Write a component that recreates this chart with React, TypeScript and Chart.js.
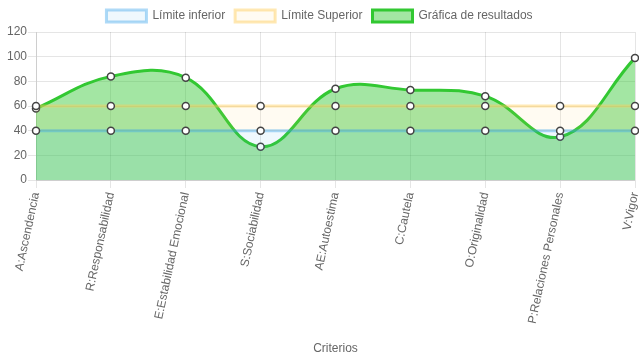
import React, { useEffect, useRef } from "react";
import { Chart, registerables } from "chart.js";

Chart.register(...registerables);

const categories = [
  "A:Ascendencia",
  "R:Responsabilidad",
  "E:Estabilidad Emocional",
  "S:Sociabilidad",
  "AE:Autoestima",
  "C:Cautela",
  "O:Originalidad",
  "P:Relaciones Personales",
  "V:Vigor",
];
const limiteInferior = [40, 40, 40, 40, 40, 40, 40, 40, 40];
const limiteSuperior = [60, 60, 60, 60, 60, 60, 60, 60, 60];
const resultados = [58, 84, 83, 27, 74, 73, 68, 35, 99];

export default function App() {
  const ref = useRef<HTMLCanvasElement>(null);
  useEffect(() => {
    if (!ref.current) return;
    const pointStyle = {
      pointRadius: 3.5,
      pointBackgroundColor: "#ffffff",
      pointBorderColor: "#444444",
      pointBorderWidth: 1.5,
    };
    const font = { family: "Arial, 'Liberation Sans', sans-serif", size: 12 };
    const chart = new Chart(ref.current, {
      type: "line",
      data: {
        labels: categories,
        datasets: [
          {
            label: "Límite inferior",
            data: limiteInferior,
            borderColor: "rgba(54,162,235,0.4)",
            backgroundColor: "rgba(54,162,235,0.08)",
            borderWidth: 3,
            fill: "origin",
            ...pointStyle,
          },
          {
            label: "Límite Superior",
            data: limiteSuperior,
            borderColor: "rgba(255,205,86,0.45)",
            backgroundColor: "rgba(255,205,86,0.08)",
            borderWidth: 3,
            fill: "-1",
            ...pointStyle,
          },
          {
            label: "Gráfica de resultados",
            data: resultados,
            borderColor: "rgb(50,200,50)",
            backgroundColor: "rgba(50,200,50,0.45)",
            borderWidth: 3,
            fill: "origin",
            tension: 0.4,
            ...pointStyle,
          },
        ],
      },
      options: {
        animation: false,
        responsive: true,
        maintainAspectRatio: false,
        layout: { padding: 0, autoPadding: false },
        plugins: {
          legend: { labels: { color: "#666", font } },
          tooltip: { enabled: false },
        },
        scales: {
          x: {
            ticks: { color: "#666", font, minRotation: 78, maxRotation: 78 },
            grid: { color: "rgba(0,0,0,0.1)" },
            title: {
              display: true,
              text: "Criterios",
              color: "#666",
              font,
              padding: { top: 14, bottom: 4 },
            },
            afterFit: (scale: any) => {
              scale.paddingRight = 4;
            },
          },
          y: {
            min: 0,
            max: 120,
            ticks: { stepSize: 20, color: "#666", font, padding: 1 },
            grid: { color: "rgba(0,0,0,0.1)" },
            afterFit: (scale: any) => {
              scale.width = 36;
            },
          },
        },
      },
    });
    return () => chart.destroy();
  }, []);
  return (
    <div style={{ position: "absolute", left: 0, top: 0, width: 639, height: 360 }}>
      <canvas ref={ref} />
    </div>
  );
}
